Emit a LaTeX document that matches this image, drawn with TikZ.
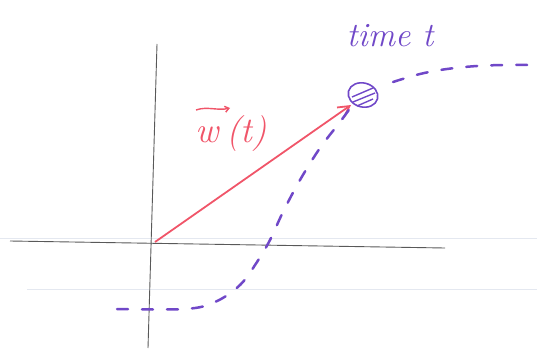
\documentclass[tikz,border=0pt]{standalone}
\usepackage{fontspec}
\usetikzlibrary{arrows.meta,shapes.geometric}
\definecolor{pen}{RGB}{112,72,200}
\definecolor{redpen}{RGB}{240,85,105}
\definecolor{rule}{RGB}{228,232,240}
\begin{document}
\begin{tikzpicture}[x=1pt,y=-1pt,
  axis/.style={draw=black!65,line width=0.9pt},
  traj/.style={draw=pen,line width=2.5pt,dash pattern=on 11pt off 14pt,line cap=round},
  ruling/.style={draw=rule,line width=0.8pt}]
\useasboundingbox (0,0) rectangle (537,350);
% paper ruling
\draw[ruling] (0,238) -- (537,238);
\draw[ruling] (27,289) -- (537,289);
% axes
\coordinate (ytop) at (157,44);
\coordinate (ybot) at (148,348);
\coordinate (xl) at (10,241);
\coordinate (xr) at (445,248);
\draw[axis] (ytop) -- (ybot);
\draw[axis] (xl) -- (xr);
\coordinate (O) at (155,242);
% moving point
\node[draw=pen,line width=1.6pt,ellipse,minimum width=30pt,minimum height=24pt,inner sep=0pt,rotate=-15] (pt) at (363,95) {};
\draw[pen,line width=1.4pt] (352,97) -- (373,88) (353,102) -- (375,93) (357,106) -- (373,99);
\node[text=pen,font=\fontsize{34}{36}\selectfont\itshape,anchor=base] (lbl) at (390,47) {time t};
% red vector
\coordinate (tip) at (351,105);
\draw[redpen,line width=1.8pt,-{Straight Barb[length=11pt,width=12pt]}] (O) -- (tip);
\node[text=redpen,font=\fontsize{36}{38}\selectfont\itshape,anchor=base west,inner sep=0pt] (w) at (195,142) {w\hspace{8pt}(t)};
\coordinate (va) at (196,110);
\coordinate (vb) at (230,108);
\draw[redpen,line width=1.4pt,-{Straight Barb[length=4pt,width=6pt]}] (va) .. controls (207,106) and (218,111) .. (vb);
% dashed trajectory
\draw[traj] plot[smooth,tension=0.6] coordinates {(117,309) (185,309) (215,302) (240,285) (257,262) (270,240) (283,212) (300,180) (320,148) (340,122) (351,107)};
\draw[traj] plot[smooth,tension=0.6] coordinates {(393,82) (420,74) (447,69) (477,66) (505,65) (535,65)};
\end{tikzpicture}
\end{document}
